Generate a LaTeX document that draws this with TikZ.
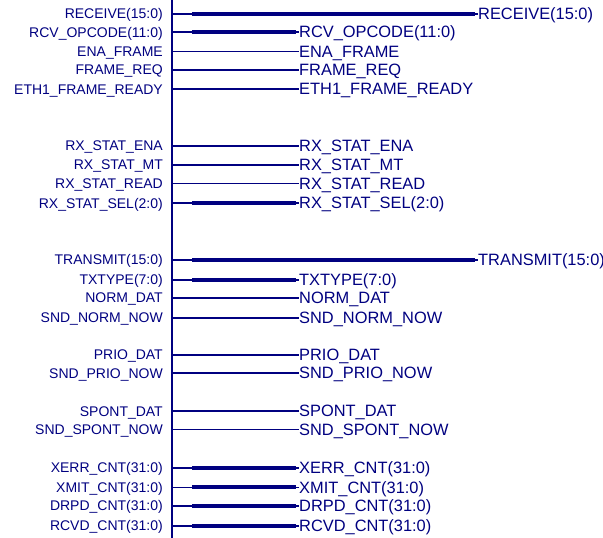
\documentclass[tikz,border=0pt]{standalone}
\usepackage{fontspec}
\setmainfont{Liberation Sans}
\begin{document}
\begin{tikzpicture}[x=1pt,y=1pt,
  sigleft/.style={anchor=east,inner sep=0pt,text=sigblue,
    font=\fontsize{14}{14}\selectfont,text height=9.6pt,text depth=0pt},
  sigright/.style={anchor=west,inner sep=0pt,text=sigblue,
    font=\fontsize{16.4}{16}\selectfont,text height=11.2pt,text depth=0pt},
  wire/.style={sigblue,line width=1.9pt},
  buswire/.style={sigblue,line width=4pt}]
  \definecolor{sigblue}{RGB}{0,0,128}
  \useasboundingbox (0,0) rectangle (603,538);
  \coordinate (bustop) at (172,538);
  \coordinate (busbot) at (172,0);
  \draw[sigblue,line width=2pt] (bustop) -- (busbot);
  % kind: 0 single wire, 1 bus, 2 bus running through
  \foreach \yy/\sig/\kind [count=\i] in {
      14/RECEIVE(15:0)/2, 32.3/RCV\_OPCODE(11:0)/1, 51.5/ENA\_FRAME/0,
      70/FRAME\_REQ/0, 89.3/ETH1\_FRAME\_READY/0,
      145.7/RX\_STAT\_ENA/0, 165/RX\_STAT\_MT/0, 183.5/RX\_STAT\_READ/0,
      203.3/RX\_STAT\_SEL(2:0)/1,
      260/TRANSMIT(15:0)/2, 279.7/TXTYPE(7:0)/1, 297.8/NORM\_DAT/0,
      318/SND\_NORM\_NOW/0,
      355/PRIO\_DAT/0, 373.3/SND\_PRIO\_NOW/0,
      411.3/SPONT\_DAT/0, 429.5/SND\_SPONT\_NOW/0,
      467.7/XERR\_CNT(31:0)/1, 487.5/XMIT\_CNT(31:0)/1,
      505.8/DRPD\_CNT(31:0)/1, 525.6/RCVD\_CNT(31:0)/1}{
    \pgfmathsetmacro{\xr}{\kind==2 ? 478 : 299}
    \node[sigleft] (l\i) at (163,538-\yy) {\sig};
    \coordinate (b\i) at (172,538-\yy);
    \node[sigright] (r\i) at (\xr,538-\yy) {\sig};
    \draw[wire] (b\i) -- (r\i.west);
    \ifnum\kind>0
      \draw[buswire] ([xshift=20pt]b\i) -- ([xshift=-3pt]r\i.west);
    \fi
  }
\end{tikzpicture}
\end{document}
